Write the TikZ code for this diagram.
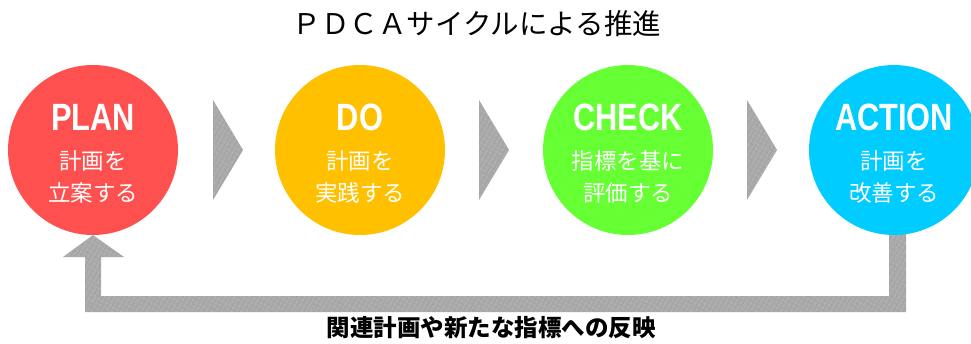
\documentclass[tikz,border=0pt]{standalone}
\usepackage{fontspec}
\usetikzlibrary{patterns.meta}
\newfontfamily\jp{Noto Sans CJK JP}
\newfontfamily\cond[FakeStretch=0.81]{Liberation Sans Bold}
\definecolor{planred}{HTML}{FF5050}
\definecolor{doyellow}{HTML}{FFC000}
\definecolor{checkgreen}{HTML}{66FF33}
\definecolor{actionblue}{HTML}{00CCFF}
\definecolor{arrowgray}{HTML}{A6A6A6}
\definecolor{stripegray}{HTML}{BDBDBD}
\tikzset{
  phase/.style={circle, minimum size=170pt, inner sep=0pt, draw=none},
  headtxt/.style={text=white, font=\cond\fontsize{38}{38}\selectfont, anchor=base, inner sep=0pt},
  subtxt/.style={text=white, font=\jp\fontsize{22.5}{22.5}\selectfont, inner sep=0pt},
  grayarrow/.style={fill=arrowgray, postaction={pattern={Lines[angle=60,distance=4pt,line width=0.6pt]}, pattern color=stripegray}},
}
\begin{document}
\begin{tikzpicture}[x=1pt,y=-1pt]
\useasboundingbox (0,0) rectangle (971,343);
% title
\node[font=\jp\fontsize{28.5}{28.5}\selectfont, inner sep=0pt] (title) at (477,24) {ＰＤＣＡサイクルによる推進};
% chevrons
\fill[grayarrow] (213,100) -- (243,150) -- (213,200) -- cycle;
\fill[grayarrow] (479,100) -- (509,150) -- (479,200) -- cycle;
\fill[grayarrow] (747,100) -- (777,150) -- (747,200) -- cycle;
% feedback arrow
\fill[grayarrow] (889,220) -- (906,220) -- (906,312) -- (85,312) -- (85,257) -- (63,257) -- (93,235)
  -- (124,257) -- (101,257) -- (101,296) -- (889,296) -- cycle;
% circles
\node[phase, fill=planred] (plan) at (93,150) {};
\node[phase, fill=doyellow] (do) at (360,150) {};
\node[phase, fill=checkgreen] (check) at (628,150) {};
\node[phase, fill=actionblue] (action) at (894,150) {};
% texts
\node[headtxt] (planh) at (93,130) {PLAN};
\node[subtxt] (plan1) at (93,161) {計画を};
\node[subtxt] (plan2) at (93,193) {立案する};
\node[headtxt] (doh) at (360,130) {DO};
\node[subtxt] (do1) at (360,161) {計画を};
\node[subtxt] (do2) at (360,193) {実践する};
\node[headtxt] (checkh) at (628,130) {CHECK};
\node[subtxt] (check1) at (628,161) {指標を基に};
\node[subtxt] (check2) at (628,193) {評価する};
\node[headtxt] (actionh) at (894,130) {ACTION};
\node[subtxt] (action1) at (894,161) {計画を};
\node[subtxt] (action2) at (894,193) {改善する};
% bottom label
\node[font=\jp\bfseries\fontsize{23.5}{23.5}\selectfont, inner sep=0pt] (fb) at (491,328) {関連計画や新たな指標への反映};
\end{tikzpicture}
\end{document}
